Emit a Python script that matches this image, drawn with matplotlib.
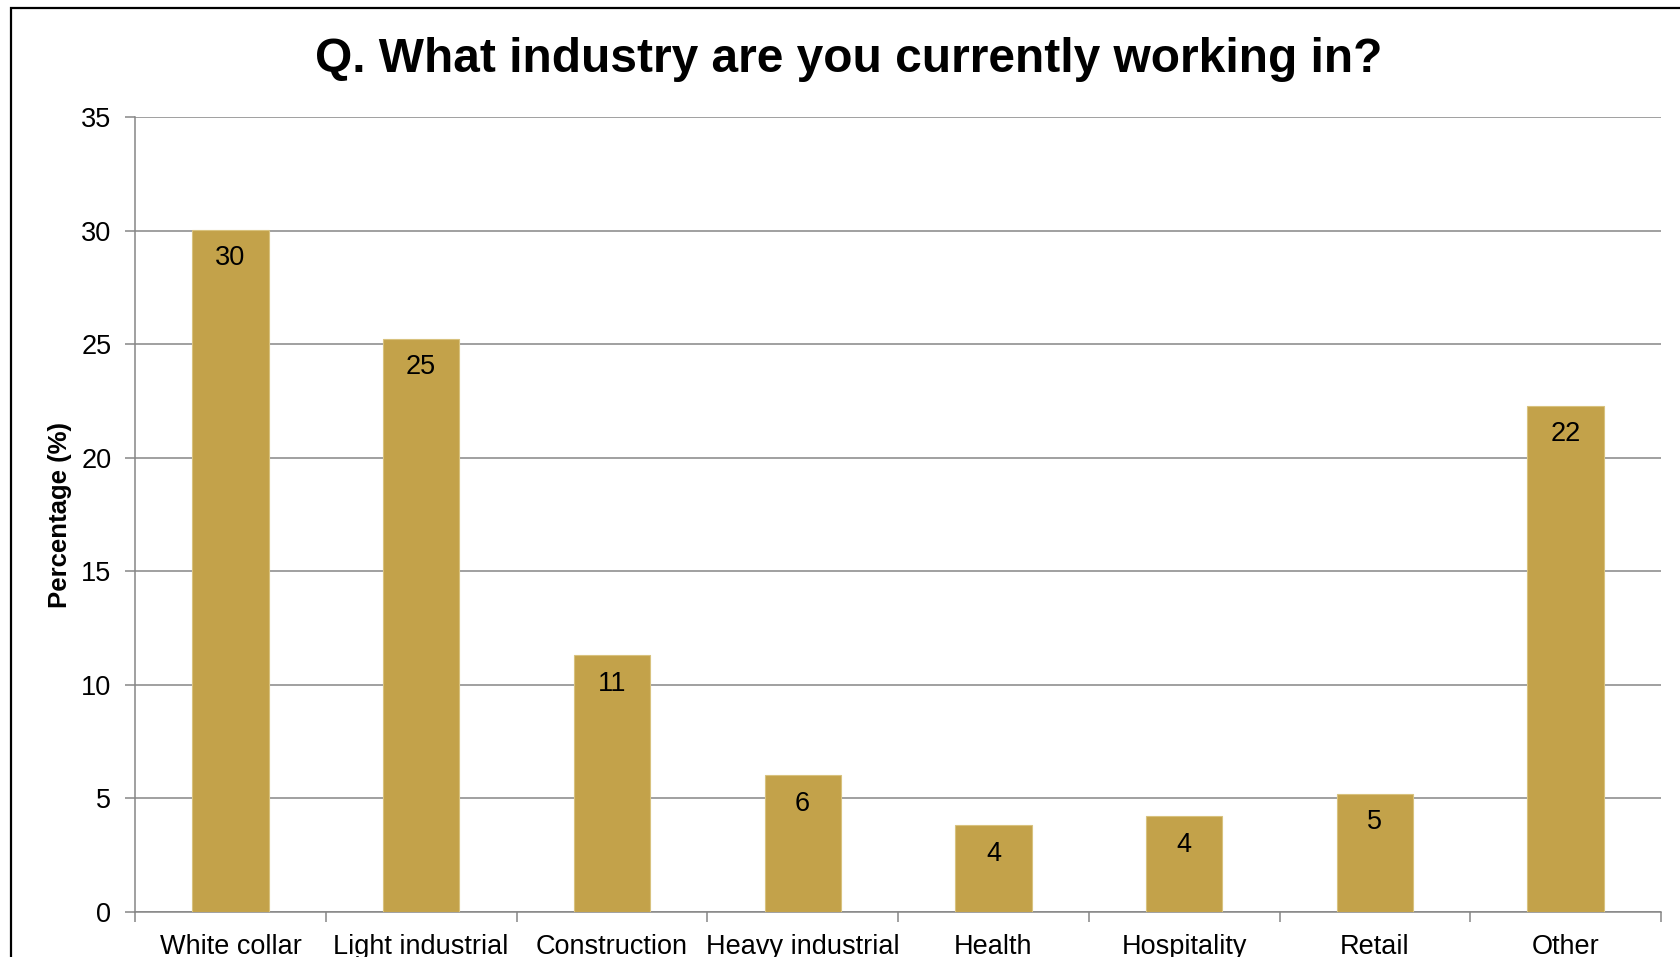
import numpy as np
import matplotlib.pyplot as plt
from matplotlib.patches import Rectangle

plt.rcParams['font.family'] = ['Liberation Sans', 'DejaVu Sans']

industries = ['White collar', 'Light industrial', 'Construction', 'Heavy industrial',
              'Health', 'Hospitality', 'Retail', 'Other']
percent = [30.05, 25.25, 11.3, 6.03, 3.81, 4.21, 5.2, 22.28]

bar_color = '#C3A24A'
axis_grey = '#868686'

fig = plt.figure(figsize=(16.8, 9.57), dpi=100)
ax = fig.add_axes([0.0804, 0.047, 0.9083, 0.8306])

x = np.arange(len(industries))
bars = ax.bar(x, percent, width=0.40, color=bar_color, edgecolor='#D8C27E',
              linewidth=0.8, zorder=3)

# value labels sit just inside the top of each bar
for rect, val in zip(bars, percent):
    ax.annotate('%.0f' % val, (rect.get_x() + rect.get_width() / 2, val),
                xytext=(0, -20.5), textcoords='offset points',
                ha='center', va='center', fontsize=19.5, color='black', zorder=4)

ax.set_xlim(-0.5, len(industries) - 0.5)
ax.set_ylim(0, 35)
ax.set_yticks(range(0, 36, 5))
ax.yaxis.grid(True, color=axis_grey, linewidth=1.1, zorder=0)
ax.set_axisbelow(True)

# category ticks on the boundaries, labels centred under bars
ax.set_xticks(np.arange(-0.5, len(industries), 1.0))
ax.set_xticklabels([])
ax.set_xticks(x, minor=True)
ax.set_xticklabels(industries, minor=True, fontsize=19.5)
ax.tick_params(axis='x', which='minor', length=0, pad=16)
ax.tick_params(axis='x', which='major', length=7, width=1.1, color=axis_grey)
ax.tick_params(axis='y', length=7, width=1.1, color=axis_grey, labelsize=19.5, pad=10)

for side in ['top', 'right']:
    ax.spines[side].set_visible(False)
for side in ['left', 'bottom']:
    ax.spines[side].set_color(axis_grey)
    ax.spines[side].set_linewidth(1.1)

ax.set_ylabel('Percentage (%)', fontsize=18.5, fontweight='bold')
ax.yaxis.set_label_coords(-0.0413, 0.5)

fig.text(0.505, 0.938, 'Q. What industry are you currently working in?',
         ha='center', va='center', fontsize=34.5, fontweight='bold')

# chart frame
fig.patches.append(Rectangle((11 / 1680, -0.02), 1.05, 1.02 - 8 / 957,
                             transform=fig.transFigure, fill=False,
                             edgecolor='black', linewidth=1.6))

fig.savefig('out.png', dpi=100)
